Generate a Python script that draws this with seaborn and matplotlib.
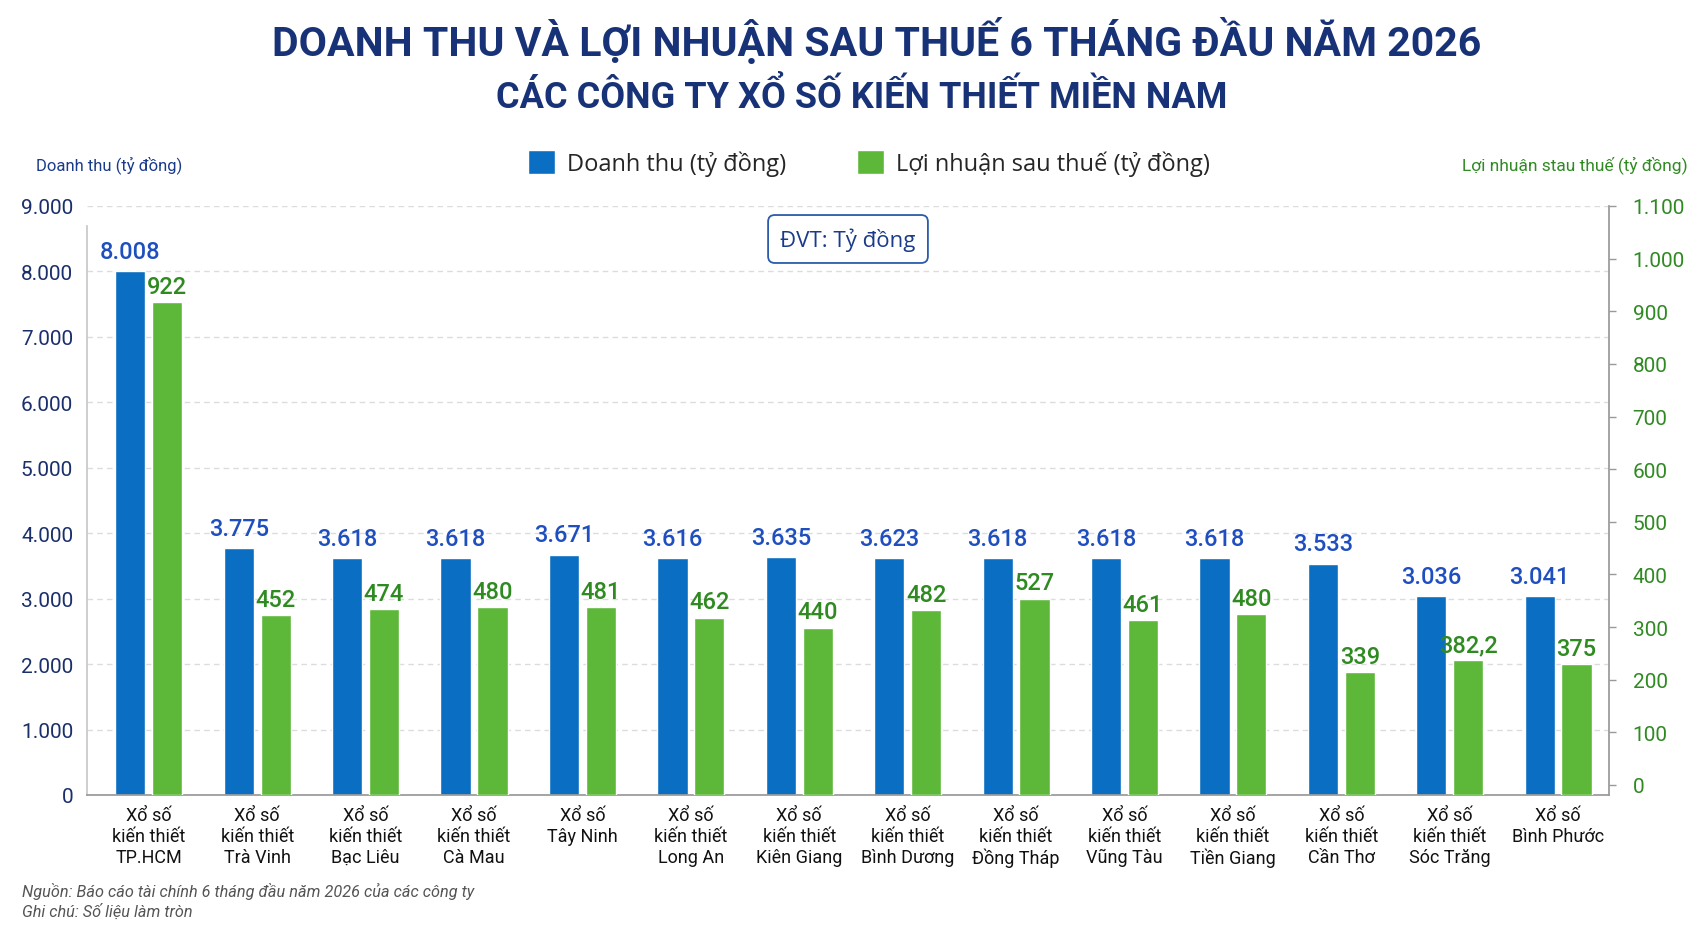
import matplotlib
matplotlib.use("Agg")
import matplotlib.pyplot as plt
from matplotlib.patches import Patch
from matplotlib.ticker import FuncFormatter
import pandas as pd
import seaborn as sns

# --- data ---
cong_ty = [
    "Xổ số\nkiến thiết\nTP.HCM", "Xổ số\nkiến thiết\nTrà Vinh", "Xổ số\nkiến thiết\nBạc Liêu",
    "Xổ số\nkiến thiết\nCà Mau", "Xổ số\nTây Ninh", "Xổ số\nkiến thiết\nLong An",
    "Xổ số\nkiến thiết\nKiên Giang", "Xổ số\nkiến thiết\nBình Dương", "Xổ số\nkiến thiết\nĐồng Tháp",
    "Xổ số\nkiến thiết\nVũng Tàu", "Xổ số\nkiến thiết\nTiền Giang", "Xổ số\nkiến thiết\nCần Thơ",
    "Xổ số\nkiến thiết\nSóc Trăng", "Xổ số\nBình Phước",
]
doanh_thu = [8008, 3775, 3618, 3618, 3671, 3616, 3635, 3623, 3618, 3618, 3618, 3533, 3036, 3041]
# profit as printed on the labels
loi_nhuan = [922, 452, 474, 480, 481, 462, 440, 482, 527, 461, 480, 339, 382.2, 375]
# profit bar heights as drawn in the picture (right axis)
loi_nhuan_cot = [918, 323, 334, 338, 338, 318, 299, 333, 354, 313, 325, 214, 237, 229]

ten_dt = "Doanh thu (tỷ đồng)"
ten_ln = "Lợi nhuận sau thuế (tỷ đồng)"
mau = {ten_dt: "#0a6fc2", ten_ln: "#5db83a"}

MAIN = ["Roboto", "DejaVu Sans"]
SANS = ["Open Sans", "DejaVu Sans"]

df = pd.DataFrame({
    "cong_ty": cong_ty * 2,
    "chi_tieu": [ten_dt] * len(cong_ty) + [ten_ln] * len(cong_ty),
    "gia_tri": doanh_thu + loi_nhuan_cot,
})

sns.set_theme(style="white")
plt.rcParams["font.family"] = MAIN

fig = plt.figure(figsize=(16.93, 9.29), dpi=100)
ax1 = fig.add_axes([0.0514, 0.1432, 0.899, 0.634])
ax2 = ax1.twinx()

common = dict(x="cong_ty", y="gia_tri", hue="chi_tieu", hue_order=[ten_dt, ten_ln],
              order=cong_ty, palette=mau, width=0.68, gap=0.18, dodge=True,
              saturation=1, legend=False, errorbar=None)
sns.barplot(data=df[df["chi_tieu"] == ten_dt], ax=ax1, **common)
sns.barplot(data=df[df["chi_tieu"] == ten_ln], ax=ax2, **common)

ax1.set_ylim(0, 9000)
ax2.set_ylim(-19, 1100)
ax1.set_xlim(-0.57, 13.47)
ax1.set_yticks(range(0, 9001, 1000))
ax2.set_yticks(range(0, 1101, 100))
dot_fmt = FuncFormatter(lambda v, p: f"{int(v):,}".replace(",", "."))
ax1.yaxis.set_major_formatter(dot_fmt)
ax2.yaxis.set_major_formatter(dot_fmt)
ax1.set_xlabel("")
ax1.set_ylabel("")
ax2.set_ylabel("")

ax1.set_xticks(range(len(cong_ty)))
ax1.set_xticklabels(cong_ty, linespacing=1.2, fontsize=13, color="#111111")
ax1.tick_params(axis="x", length=0, pad=8)
ax1.tick_params(axis="y", length=0, pad=10, labelsize=15, labelcolor="#1a2f6b")
ax2.tick_params(axis="y", length=5, width=1, color="#999999", pad=12,
                labelsize=15, labelcolor="#2f8a22")

ax1.set_axisbelow(True)
ax1.yaxis.grid(True, linestyle=(0, (4, 3)), color="#dcdcdc", linewidth=1)
ax1.xaxis.grid(False)
ax2.grid(False)
for s in ["top", "right"]:
    ax1.spines[s].set_visible(False)
for s in ["top", "left", "bottom"]:
    ax2.spines[s].set_visible(False)
ax1.spines["left"].set_color("#c8c8c8")
ax1.spines["left"].set_bounds(0, 8700)
ax1.spines["bottom"].set_color("#999999")
ax2.spines["right"].set_color("#999999")

cont_dt = [c for c in ax1.containers if len(c) == len(cong_ty)][0]
cont_ln = [c for c in ax2.containers if len(c) == len(cong_ty)][0]

# green bars stand on the same baseline as the blue ones
y_day = ax2.get_ylim()[0]
for p in cont_ln:
    top = p.get_y() + p.get_height()
    p.set_y(y_day)
    p.set_height(top - y_day)

# value labels
ax1.bar_label(cont_dt, labels=[f"{v:,}".replace(",", ".") for v in doanh_thu],
              padding=6, fontsize=17, fontweight="medium", color="#1f4fbf")
ln_txt = [str(int(v)) if float(v).is_integer() else str(v).replace(".", ",") for v in loi_nhuan]
ax2.bar_label(cont_ln, labels=ln_txt, padding=3, fontsize=17, fontweight="medium", color="#2f8a22")

# titles
fig.text(0.518, 1 - 40 / 929, "DOANH THU VÀ LỢI NHUẬN SAU THUẾ 6 THÁNG ĐẦU NĂM 2026",
         ha="center", va="center", fontsize=29.5, fontweight="bold", color="#183278")
fig.text(0.509, 1 - 97 / 929, "CÁC CÔNG TY XỔ SỐ KIẾN THIẾT MIỀN NAM",
         ha="center", va="center", fontsize=26, fontweight="bold", color="#183278")

# axis captions
fig.text(36 / 1693, 1 - 165 / 929, ten_dt, ha="left", va="center", fontsize=12, color="#1a3a8a")
fig.text(1688 / 1693, 1 - 165 / 929, "Lợi nhuận stau thuế (tỷ đồng)", ha="right", va="center",
         fontsize=12.5, color="#2f8a22")

# legend
handles = [Patch(facecolor=mau[ten_dt]), Patch(facecolor=mau[ten_ln])]
fig.legend(handles, [ten_dt, ten_ln], loc="center", bbox_to_anchor=(869 / 1693, 1 - 164 / 929),
           ncol=2, frameon=False, handlelength=1.15, handleheight=1.15, handletextpad=0.5,
           columnspacing=3.0, prop={"family": SANS, "size": 17})

# unit box
fig.text(848 / 1693, 1 - 240 / 929, "ĐVT: Tỷ đồng", ha="center", va="center", fontsize=16,
         family=SANS, color="#1a3a8a",
         bbox=dict(boxstyle="round,pad=0.55,rounding_size=0.3", facecolor="white",
                   edgecolor="#2a5caa", linewidth=1.3))

# footnotes
fig.text(22 / 1693, 1 - 891 / 929, "Nguồn: Báo cáo tài chính 6 tháng đầu năm 2026 của các công ty",
         ha="left", va="center", fontsize=11.7, style="italic", color="#555555")
fig.text(22 / 1693, 1 - 912 / 929, "Ghi chú: Số liệu làm tròn",
         ha="left", va="center", fontsize=11.7, style="italic", color="#555555")

fig.savefig("out.png", dpi=100, facecolor="white")
